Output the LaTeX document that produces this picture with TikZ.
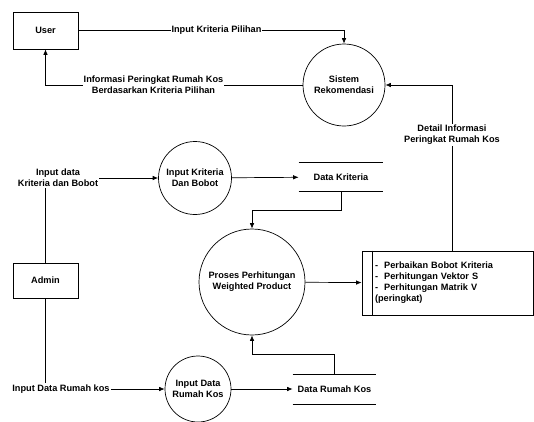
\documentclass[tikz,border=0pt]{standalone}
\usepackage{fontspec}
\setmainfont{Liberation Sans}
\usepackage{tikz}
\usetikzlibrary{arrows.meta, positioning}
\tikzstyle{entity}=[rectangle, draw=black, minimum width=65pt, minimum height=37pt, text centered]
\tikzstyle{process}=[circle, draw=black, inner sep=0pt, align=center]
\tikzstyle{store}=[rectangle, inner sep=0pt, minimum height=28pt, text centered]
\tikzstyle{detailbox}=[rectangle, draw=black, minimum width=171pt, minimum height=64pt, text width=145pt, inner xsep=13pt, align=left]
\tikzstyle{flow}=[inner sep=1pt, fill=white, align=center]
\tikzstyle{arrow}=[-{Latex[length=5.5pt,width=4.5pt]}]

\begin{document}
\begin{tikzpicture}[x=1pt, y=-1pt, line width=0.7pt, font=\fontsize{9.2}{11}\selectfont\bfseries]
	\useasboundingbox (0,0) rectangle (534,421);
	\node (user) [entity] at (45.5,30.5) {User};
	\node (admin) [entity, minimum height=35pt] at (45.5,280.5) {Admin};
	\node (sistem) [process, minimum size=82pt] at (344,85) {Sistem\\Rekomendasi};
	\node (inputkb) [process, minimum size=73pt] at (195,178) {Input Kriteria\\Dan Bobot};
	\node (proses) [process, minimum size=106pt] at (252,282) {Proses Perhitungan\\Weighted Product};
	\node (inputrk) [process, minimum size=66pt] at (198,389) {Input Data\\Rumah Kos};
	\node (datakriteria) [store, minimum width=84pt] at (341,177) {Data Kriteria};
	\node (datarumah) [store, minimum width=83pt, minimum height=29pt] at (334.5,389) {Data Rumah Kos};
	\node (hasil) [detailbox] at (447.5,283) {-~~Perbaikan Bobot Kriteria\\-~~Perhitungan Vektor S\\-~~Perhitungan Matrik V\\(peringkat)};
	
	\node (lblkriteria) [flow, fill=none] at (58,178) {Input data\\Kriteria dan Bobot};
	\node (lblrumah) [flow] at (61,389) {Input Data Rumah kos};
	
	% data stores
	\draw (datakriteria.north west) -- (datakriteria.north east);
	\draw (datakriteria.south west) -- (datakriteria.south east);
	\draw (datarumah.north west) -- (datarumah.north east);
	\draw (datarumah.south west) -- (datarumah.south east);
	\draw ([xshift=11pt]hasil.north west) -- ([xshift=11pt]hasil.south west);
	
	\draw [arrow] (user.east) -| node[flow, pos=0.26] {Input Kriteria Pilihan} (sistem.north);
	\draw [arrow] (sistem.west) -| node[flow, pos=0.29] {Informasi Peringkat Rumah Kos\\Berdasarkan Kriteria Pilihan} (user.south);
	\draw [arrow] ([xshift=4.5pt]hasil.north) |- node[flow, pos=0.35] {Detail Informasi\\Peringkat Rumah Kos} (sistem.east);
	\draw (admin.north) -- (admin.north |- lblkriteria.south);
	\draw [arrow] (lblkriteria) -- (inputkb);
	\draw [arrow] (inputkb) -- (datakriteria);
	\draw [arrow] (datakriteria.south) -- ++(0,19) -| (proses.north);
	\draw (admin.south) -- (admin.south |- lblrumah.north);
	\draw [arrow] (lblrumah) -- (inputrk);
	\draw [arrow] (inputrk) -- (datarumah);
	\draw [arrow] (datarumah.north) -- ++(0,-20) -| (proses.south);
	\draw [arrow] (proses) -- (hasil);
\end{tikzpicture}
\end{document}
